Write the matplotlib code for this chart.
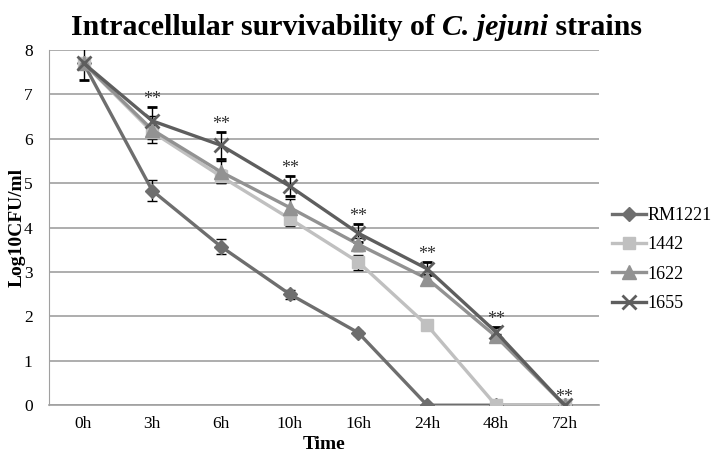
import matplotlib
matplotlib.use("Agg")
import matplotlib.pyplot as plt
from matplotlib.container import ErrorbarContainer
import numpy as np

times = ["0h", "3h", "6h", "10h", "16h", "24h", "48h", "72h"]
strains = ["RM1221", "1442", "1622", "1655"]

rm1221 = [7.7, 4.83, 3.57, 2.5, 1.63, 0, 0, 0]
s1442 = [7.7, 6.15, 5.15, 4.2, 3.22, 1.8, 0, 0]
s1622 = [7.7, 6.2, 5.25, 4.45, 3.62, 2.85, 1.55, 0]
s1655 = [7.7, 6.4, 5.85, 4.93, 3.87, 3.07, 1.65, 0]

err_rm1221 = [0.0, 0.24, 0.17, 0.1, 0.05, 0, 0, 0]
err_1442 = [0.0, 0.15, 0.15, 0.17, 0.17, 0, 0, 0]
err_1622 = [0.0, 0.3, 0.25, 0.2, 0.15, 0.1, 0.05, 0]
err_1655 = [0.38, 0.32, 0.3, 0.22, 0.2, 0.15, 0.1, 0]

title_parts = [("Intracellular survivability of ", "normal"),
               ("C. jejuni", "italic"),
               (" strains", "normal")]

plt.rcParams['font.family'] = ['Liberation Serif', 'DejaVu Serif']

fig = plt.figure(figsize=(7.13, 4.61), dpi=100)
ax = fig.add_axes([0.069, 0.121, 0.771, 0.771])

x = np.arange(len(times))
series = [
    (rm1221, err_rm1221, "#6e6e6e", "D", 7.5),
    (s1442, err_1442, "#c0c0c0", "s", 8.5),
    (s1622, err_1622, "#929292", "^", 10),
    (s1655, err_1655, "#5e5e5e", "x", 10),
]
for name, (vals, errs, col, mk, ms) in zip(strains, series):
    ax.errorbar(x, vals, yerr=errs, color=col, marker=mk, markersize=ms,
                linewidth=2.4, markeredgewidth=2 if mk == "x" else 1,
                ecolor="black", elinewidth=1, capsize=3.5, label=name, zorder=3)

# significance marks above 1655
for i in range(1, len(times)):
    ax.text(x[i], s1655[i] + err_1655[i] - 0.02, "**", ha="center", va="bottom",
            fontsize=13, color="#333333", zorder=4)

ax.set_xlim(-0.5, len(times) - 0.5)
ax.set_ylim(0, 8)
ax.set_xticks(x)
ax.set_xticklabels(times)
ax.set_yticks(range(0, 9))
ax.yaxis.grid(True, color="#a0a0a0", linewidth=1.2)
ax.set_axisbelow(True)
for s in ["top", "right"]:
    ax.spines[s].set_visible(False)
ax.spines["left"].set_color("#a0a0a0")
ax.spines["bottom"].set_color("#a0a0a0")
ax.spines["bottom"].set_linewidth(1.2)
ax.tick_params(axis="both", length=0, labelsize=12.5, pad=8)
ax.tick_params(axis="y", pad=12)

ax.set_xlabel("Time", fontsize=14, fontweight="bold", labelpad=3)
ax.set_ylabel("Log10CFU/ml", fontsize=14, fontweight="bold", labelpad=-1)

# title in pieces so only the species name is italic
renderer = fig.canvas.get_renderer()
pieces = []
for txt, style in title_parts:
    t = fig.text(0, 0.925, txt, fontsize=21.5, fontweight="bold", fontstyle=style,
                 ha="left", va="baseline")
    pieces.append(t)
widths = [t.get_window_extent(renderer).width for t in pieces]
total = sum(widths)
left = (fig.bbox.width - total) / 2
for t, w in zip(pieces, widths):
    t.set_x(left / fig.bbox.width)
    left += w

handles, labels = ax.get_legend_handles_labels()
handles = [h[0] if isinstance(h, ErrorbarContainer) else h for h in handles]
ax.legend(handles, labels, loc="center left", bbox_to_anchor=(1.0, 0.41),
          frameon=False, fontsize=13, handlelength=1.9, handletextpad=0.1,
          labelspacing=0.68, borderaxespad=0.3)

fig.savefig("out.png", dpi=100)
